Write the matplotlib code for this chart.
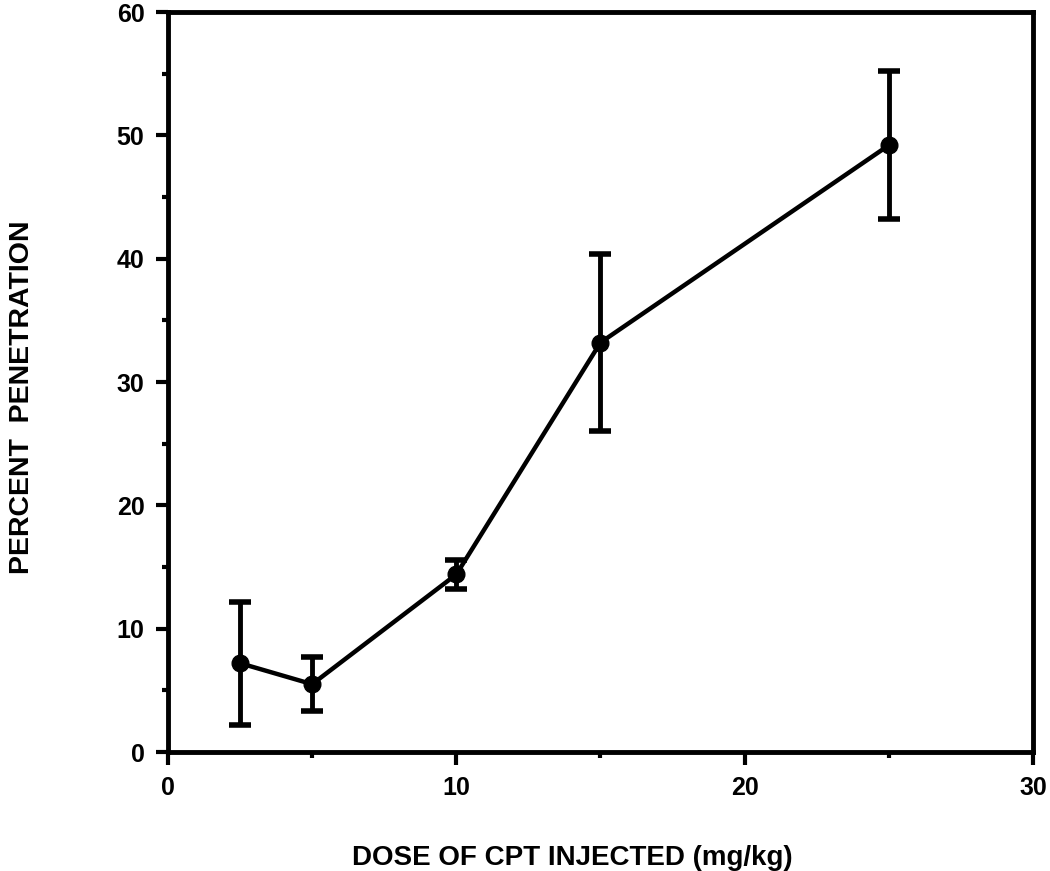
import matplotlib
matplotlib.use("Agg")
import matplotlib.pyplot as plt
from matplotlib.ticker import MultipleLocator

dose = [2.5, 5, 10, 15, 25]
penetration = [7.2, 5.5, 14.4, 33.2, 49.2]
err = [5.0, 2.2, 1.2, 7.2, 6.0]

xticks = [0, 10, 20, 30]
yticks = [0, 10, 20, 30, 40, 50, 60]

plt.rcParams['font.family'] = ['Liberation Sans', 'DejaVu Sans']

fig = plt.figure(figsize=(10.5, 8.71), dpi=100)
ax = fig.add_axes([0.16, 0.1366, 0.8238, 0.8496])

ax.errorbar(dose, penetration, yerr=err, color='black', lw=3.2, marker='o',
            markersize=12, capsize=8, capthick=4, elinewidth=3.5)

ax.set_xlim(0, 30)
ax.set_ylim(0, 60)
ax.set_xticks(xticks)
ax.set_yticks(yticks)
ax.xaxis.set_minor_locator(MultipleLocator(5))
ax.yaxis.set_minor_locator(MultipleLocator(5))
ax.tick_params(which='major', direction='out', length=9, width=3, labelsize=18, pad=8)
ax.tick_params(which='minor', direction='out', length=4.5, width=3)
for lab in ax.get_xticklabels() + ax.get_yticklabels():
    lab.set_fontweight('bold')
for s in ax.spines.values():
    s.set_linewidth(3.5)

fig.text(572 / 1050, 1 - 858 / 871, 'DOSE OF CPT INJECTED (mg/kg)', fontsize=20,
         fontweight='bold', ha='center', va='center')
fig.text(22 / 1050, 1 - 397 / 871, 'PERCENT  PENETRATION', fontsize=20.5,
         fontweight='bold', ha='center', va='center', rotation=90)

fig.savefig('out.png', dpi=100)
